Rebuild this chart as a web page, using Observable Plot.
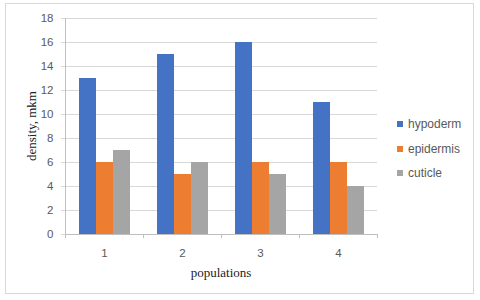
<!DOCTYPE html>
<html>
<head>
<meta charset="utf-8">
<script src="https://cdn.jsdelivr.net/npm/d3@7"></script>
<script src="https://cdn.jsdelivr.net/npm/@observablehq/plot@0.6"></script>
<style>
  html, body { margin: 0; padding: 0; background: #fff; }
  #wrap { position: relative; width: 480px; height: 300px; overflow: hidden; background: #fff; }
  #border { position: absolute; left: 5px; top: 3px; width: 469px; height: 291px; border: 1px solid #d9d9d9; box-sizing: border-box; }
  #chart { position: absolute; left: 0; top: 0; }
  .title { position: absolute; font-family: "Liberation Serif", "Times New Roman", serif; font-size: 13px; color: #222; white-space: nowrap; line-height: 1; }
  #ylab { left: 31px; top: 126px; transform: translate(-50%, -50%) rotate(-90deg); }
  #xlab { left: 221px; top: 266px; transform: translateX(-50%); }
  #legend { position: absolute; left: 397px; top: 117px; font-family: "Liberation Sans", Arial, sans-serif; font-size: 12px; color: #595959; }
  .item { position: absolute; left: 0; white-space: nowrap; height: 14px; line-height: 14px; }
  .sw { display: inline-block; width: 6px; height: 6px; margin-right: 5px; vertical-align: 1px; }
</style>
</head>
<body>
<div id="wrap">
  <div id="border"></div>
  <div id="chart"></div>
  <div id="ylab" class="title">density, mkm</div>
  <div id="xlab" class="title">populations</div>
  <div id="legend"></div>
</div>
<script>
const populations = ["1", "2", "3", "4"];
const series = ["hypoderm", "epidermis", "cuticle"];
const hypoderm = [13, 15, 16, 11];
const epidermis = [6, 5, 6, 6];
const cuticle = [7, 6, 5, 4];
const colors = ["#4472C4", "#ED7D31", "#A5A5A5"];
const yTicks = [0, 2, 4, 6, 8, 10, 12, 14, 16, 18];

const valuesBySeries = {hypoderm, epidermis, cuticle};
const data = populations.flatMap((p, i) =>
  series.map(s => ({population: p, series: s, value: valuesBySeries[s][i]}))
);

const W = 480, H = 300, mL = 65, mR = 103, mT = 18, mB = 66;
const bandW = (W - mL - mR) / populations.length;

const chart = Plot.plot({
  width: W,
  height: H,
  marginLeft: mL,
  marginRight: mR,
  marginTop: mT,
  marginBottom: mB,
  style: {
    fontFamily: "'Liberation Sans', Arial, sans-serif",
    fontSize: "11.5px",
    color: "#595959",
    background: "transparent",
    overflow: "visible"
  },
  fx: {domain: populations, padding: 0, label: null},
  x: {domain: series, paddingInner: 0, paddingOuter: 0.743, axis: null},
  y: {domain: [0, 18], label: null},
  color: {domain: series, range: colors},
  marks: [
    Plot.gridY(yTicks, {stroke: "#d9d9d9", strokeOpacity: 1}),
    Plot.barY(data, {fx: "population", x: "series", y: "value", fill: "series"}),
    Plot.ruleY([0], {stroke: "#bfbfbf"}),
    Plot.frame({anchor: "left", facetAnchor: "left", stroke: "#bfbfbf"}),
    Plot.axisY(yTicks, {tickSize: 4, tickPadding: 8, stroke: "#d9d9d9", label: null}),
    Plot.axisFx({anchor: "bottom", tickSize: 0, tickPadding: 14, label: null}),
    Plot.axisFx({anchor: "bottom", tickSize: 4, tickFormat: () => "", dx: -bandW / 2, stroke: "#bfbfbf", label: null}),
    Plot.axisFx({anchor: "bottom", tickSize: 4, tickFormat: () => "", dx: bandW / 2, stroke: "#bfbfbf", label: null})
  ]
});
document.getElementById("chart").appendChild(chart);

const legend = document.getElementById("legend");
series.forEach((s, i) => {
  const item = document.createElement("div");
  item.className = "item";
  item.style.top = (i * 24.5) + "px";
  const sw = document.createElement("span");
  sw.className = "sw";
  sw.style.background = colors[i];
  item.appendChild(sw);
  item.appendChild(document.createTextNode(s));
  legend.appendChild(item);
});
</script>
</body>
</html>
